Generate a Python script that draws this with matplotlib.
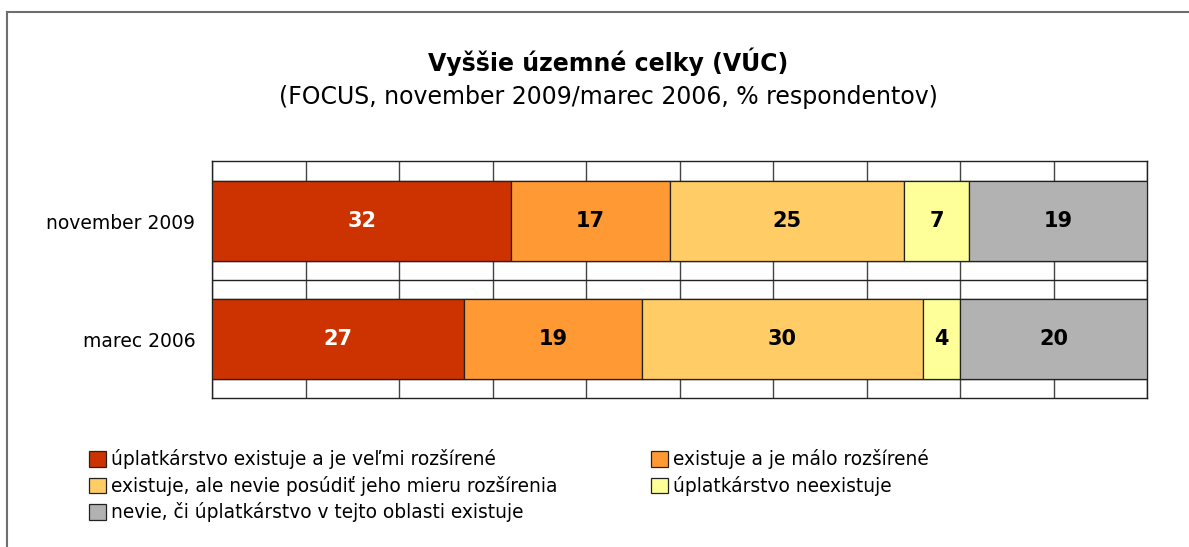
import matplotlib.pyplot as plt
from matplotlib.patches import Patch
from matplotlib.lines import Line2D

plt.rcParams['font.family'] = ['DejaVu Sans']

# data
obdobia = ['november 2009', 'marec 2006']
kategorie = ['úplatkárstvo existuje a je veľmi rozšírené',
             'existuje a je málo rozšírené',
             'existuje, ale nevie posúdiť jeho mieru rozšírenia',
             'úplatkárstvo neexistuje',
             'nevie, či úplatkárstvo v tejto oblasti existuje']
hodnoty = [[32, 27],
           [17, 19],
           [25, 30],
           [7, 4],
           [19, 20]]
farby = ['#CC3300', '#FF9933', '#FFCC66', '#FFFF99', '#B2B2B2']
farby_textu = ['white', 'black', 'black', 'black', 'black']

fig = plt.figure(figsize=(11.89, 5.47), dpi=100)
ax = fig.add_axes([212/1189, 1-398/547, (1147-212)/1189, (398-161)/547])

# vonkajsi ramik (vidno len hornu a lavu hranu)
fig.add_artist(Line2D([7/1189, 1.0], [1-12/547, 1-12/547], transform=fig.transFigure,
                      color='#6e6e6e', lw=1.5))
fig.add_artist(Line2D([7/1189, 7/1189], [0, 1-12/547], transform=fig.transFigure,
                      color='#6e6e6e', lw=1.5))

vyska = 0.68
y = list(range(len(obdobia)))
lavy = [0] * len(obdobia)
for hod, farba, ft in zip(hodnoty, farby, farby_textu):
    ax.barh(y, hod, left=lavy, height=vyska, color=farba, edgecolor='#222222',
            linewidth=0.9, zorder=3)
    for yi, l, v in zip(y, lavy, hod):
        ax.text(l + v/2, yi, str(v), ha='center', va='center', color=ft,
                fontsize=15, fontweight='bold', zorder=4)
    lavy = [a + b for a, b in zip(lavy, hod)]

ax.set_xlim(0, 100)
ax.set_ylim(1.5, -0.51)
ax.set_xticks(range(0, 101, 10))
ax.xaxis.grid(True, color='#444444', linewidth=1)
ax.set_axisbelow(True)
for yy in [-0.34, 0.34, 0.5, 0.66, 1.34]:
    ax.axhline(yy, color='#222222', linewidth=1, zorder=2)
ax.tick_params(axis='x', length=0, labelbottom=False)
ax.set_yticks(y)
ax.set_yticklabels(obdobia, fontsize=13.5)
ax.tick_params(axis='y', length=0, pad=12)
for s in ax.spines.values():
    s.set_color('#222222')
    s.set_linewidth(1)

fig.text(608/1189, 1-62/547, 'Vyššie územné celky (VÚC)', ha='center', va='center',
         fontsize=17, fontweight='bold')
fig.text(608/1189, 1-97/547, '(FOCUS, november 2009/marec 2006, % respondentov)',
         ha='center', va='center', fontsize=17)

poradie = [0, 2, 4, 1, 3]
handles = [Patch(facecolor=farby[i], edgecolor='#222222', linewidth=0.9) for i in poradie]
labels = [kategorie[i] for i in poradie]
fig.legend(handles, labels, loc='upper left', bbox_to_anchor=(80/1189, 1-440/547),
           ncol=2, frameon=False, fontsize=13.4, handlelength=0.9, handleheight=0.9,
           handletextpad=0.25, labelspacing=0.35, columnspacing=5.05, borderpad=0)

fig.savefig('out.png', dpi=100)
